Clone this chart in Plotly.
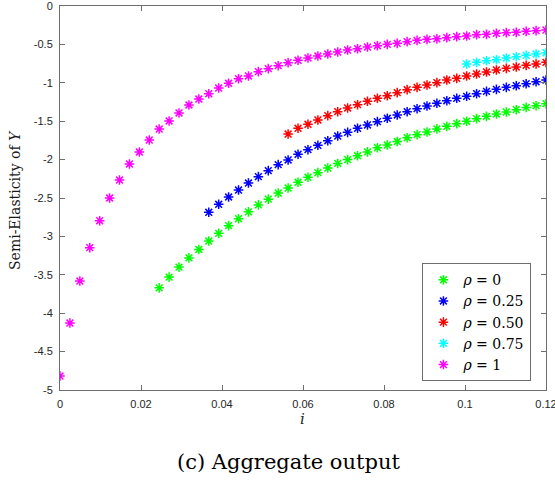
import numpy as np
import plotly.graph_objects as go

# x grid (50 points between 0 and 0.12)
i_grid = list(np.linspace(0, 0.12, 50))

y_rho0 = [-3.67, -3.53, -3.40, -3.28, -3.17, -3.06, -2.96, -2.86, -2.77, -2.68,
          -2.59, -2.515, -2.435, -2.37, -2.295, -2.23, -2.17, -2.11, -2.05, -2.00,
          -1.95, -1.90, -1.845, -1.81, -1.765, -1.715, -1.675, -1.64, -1.60, -1.567,
          -1.532, -1.50, -1.467, -1.437, -1.406, -1.38, -1.35, -1.32, -1.298, -1.272]
y_rho025 = [-2.686, -2.582, -2.487, -2.396, -2.305, -2.222, -2.144, -2.066, -2.005, -1.931,
            -1.871, -1.814, -1.754, -1.693, -1.645, -1.592, -1.549, -1.506, -1.462, -1.419,
            -1.376, -1.337, -1.302, -1.267, -1.233, -1.202, -1.176, -1.142, -1.111, -1.085,
            -1.059, -1.038, -1.012, -0.986, -0.964]
y_rho050 = [-1.667, -1.592, -1.54, -1.484, -1.428, -1.376, -1.328, -1.285, -1.241, -1.202,
            -1.168, -1.128, -1.089, -1.059, -1.029, -0.998, -0.964, -0.942, -0.911, -0.885,
            -0.859, -0.833, -0.812, -0.794, -0.773, -0.755, -0.734]
y_rho075 = [-0.755, -0.734, -0.712, -0.699, -0.677, -0.66, -0.642, -0.625, -0.608]
y_rho1 = [-4.818, -4.128, -3.581, -3.147, -2.796, -2.50, -2.266, -2.057, -1.901, -1.745,
          -1.602, -1.497, -1.393, -1.289, -1.211, -1.142, -1.068, -1.006, -0.947, -0.911,
          -0.855, -0.816, -0.777, -0.738, -0.707, -0.677, -0.651, -0.625, -0.599, -0.573,
          -0.556, -0.534, -0.517, -0.499, -0.486, -0.464, -0.447, -0.434, -0.428, -0.412,
          -0.399, -0.391, -0.373, -0.369, -0.356, -0.347, -0.343, -0.33, -0.321, -0.313]

series_names = ["<i>ρ</i> = 0", "<i>ρ</i> = 0.25", "<i>ρ</i> = 0.50", "<i>ρ</i> = 0.75", "<i>ρ</i> = 1"]
series_values = [y_rho0, y_rho025, y_rho050, y_rho075, y_rho1]
series_colors = ["#00ff00", "#0000ff", "#ff0000", "#00ffff", "#ff00ff"]

x_tickvals = [0, 0.02, 0.04, 0.06, 0.08, 0.1, 0.12]
x_ticktext = ["0", "0.02", "0.04", "0.06", "0.08", "0.1", "0.12"]
y_tickvals = [0, -0.5, -1, -1.5, -2, -2.5, -3, -3.5, -4, -4.5, -5]
y_ticktext = ["0", "-0.5", "-1", "-1.5", "-2", "-2.5", "-3", "-3.5", "-4", "-4.5", "-5"]

fig = go.Figure()
for name, vals, col in zip(series_names, series_values, series_colors):
    xs = i_grid[len(i_grid) - len(vals):]
    fig.add_trace(go.Scatter(
        x=xs, y=vals, mode="markers", name=name,
        marker=dict(symbol="asterisk-open", size=8, color=col,
                    line=dict(color=col, width=1.5)),
    ))

axis_common = dict(showline=True, linecolor="#6e6e6e", linewidth=1, mirror="ticks",
                   ticks="inside", ticklen=5, tickcolor="#6e6e6e", showgrid=False,
                   zeroline=False, ticklabelstandoff=4, ticklabeloverflow="allow",
                   automargin=False,
                   tickfont=dict(family="Liberation Sans", size=11, color="#262626"))

fig.update_layout(
    width=555, height=490,
    margin=dict(l=60, r=9, t=6, b=100),
    plot_bgcolor="white", paper_bgcolor="white",
    xaxis=dict(range=[0, 0.120001], tickvals=x_tickvals, ticktext=x_ticktext, **axis_common),
    yaxis=dict(range=[-5, 0.00004], tickvals=y_tickvals, ticktext=y_ticktext, **axis_common),
    showlegend=True,
    legend=dict(x=0.970, y=0.023, xanchor="right", yanchor="bottom",
                bgcolor="white", bordercolor="#6e6e6e", borderwidth=1,
                font=dict(family="DejaVu Serif", size=14, color="#000000"),
                itemwidth=30),
)

plot_w = 555 - 60 - 9
plot_h = 490 - 6 - 100
def px_to_paper(px, py):
    return (px - 60) / plot_w, (490 - 100 - py) / plot_h

ax, ay = px_to_paper(15, 200)
ix, iy = px_to_paper(302, 419)
cx, cy = px_to_paper(288, 462)
fig.add_annotation(text="Semi-Elasticity of <i>Y</i>", x=ax, y=ay, xref="paper", yref="paper",
                   xanchor="center", yanchor="middle", showarrow=False, textangle=-90,
                   font=dict(family="DejaVu Serif", size=14, color="#1a1a1a"))
fig.add_annotation(text="<i>i</i>", x=ix, y=iy, xref="paper", yref="paper", showarrow=False,
                   xanchor="center", yanchor="middle",
                   font=dict(family="DejaVu Serif", size=15, color="#262626"))
fig.add_annotation(text="(c) Aggregate output", x=cx, y=cy, xref="paper", yref="paper",
                   xanchor="center", yanchor="middle", showarrow=False,
                   font=dict(family="DejaVu Serif", size=21, color="#000000"))

fig.write_html("out.html")
